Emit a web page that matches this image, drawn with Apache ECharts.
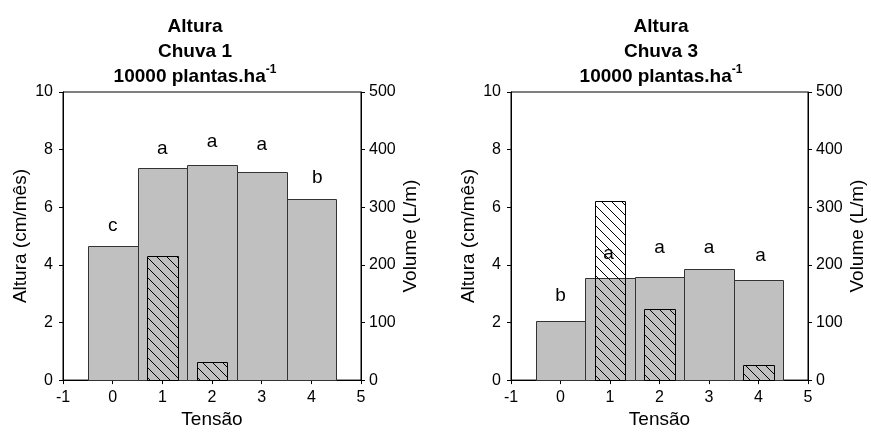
<!DOCTYPE html>
<html>
<head>
<meta charset="UTF-8">
<title>Altura - Chuva 1 / Chuva 3</title>
<script src="https://cdn.jsdelivr.net/npm/echarts/dist/echarts.min.js"></script>
<style>
    html, body { margin: 0; padding: 0; background: #fff; }
    #main { width: 871px; height: 434px; }
</style>
</head>
<body>
<div id="main"></div>
<script type="text/javascript">
    // posicoes das barras (Tensao)
    var tensao = [0, 1, 2, 3, 4];

    // Chuva 1
    var altura1 = [4.66, 7.36, 7.47, 7.22, 6.28];
    var volumeX1 = [1, 2];
    var volume1 = [216, 31];
    var letras1 = ['c', 'a', 'a', 'a', 'b'];
    var letrasX1 = [0, 1, 2, 3, 4.12];
    var letrasY1 = [5.35, 8.03, 8.26, 8.18, 7.04];

    // Chuva 3
    var altura3 = [2.04, 3.53, 3.59, 3.85, 3.47];
    var volumeX3 = [1, 2, 4];
    var volume3 = [310, 124, 26];
    var letras3 = ['b', 'a', 'a', 'a', 'a'];
    var letrasX3 = [0, 0.97, 2, 3, 4.04];
    var letrasY3 = [2.94, 4.38, 4.59, 4.61, 4.30];

    var xTicks = { min: -1, max: 5, interval: 1 };
    var yLeft = { min: 0, max: 10, interval: 2 };
    var yRight = { min: 0, max: 500, interval: 100 };

    var FONT = 'Liberation Sans, Arial, Helvetica, sans-serif';

    // padrao de hachura "\\\"
    var hatch = document.createElement('canvas');
    hatch.width = 10;
    hatch.height = 10;
    var g = hatch.getContext('2d');
    g.strokeStyle = '#000';
    g.lineWidth = 1;
    g.beginPath();
    g.moveTo(-1, -1); g.lineTo(11, 11);
    g.moveTo(-1, 9); g.lineTo(1, 11);
    g.moveTo(9, -1); g.lineTo(11, 1);
    g.stroke();

    function barRenderer(half, style) {
        return function (params, api) {
            var x = api.value(0), v = api.value(1);
            var tl = api.coord([x - half, v]);
            var br = api.coord([x + half, 0]);
            var x0 = Math.round(tl[0]) + 0.5, x1 = Math.round(br[0]) + 0.5;
            var y0 = Math.round(tl[1]) + 0.5, y1 = Math.round(br[1]) + 0.5;
            return {
                type: 'rect',
                shape: { x: x0, y: y0, width: x1 - x0, height: y1 - y0 },
                style: style
            };
        };
    }

    function letterRenderer(params, api) {
        var p = api.coord([api.value(0), api.value(1)]);
        return {
            type: 'text',
            x: p[0], y: p[1],
            style: {
                text: api.value(2),
                font: '19px ' + FONT,
                fill: '#000',
                align: 'center',
                verticalAlign: 'middle'
            }
        };
    }

    function zip(xs, ys, extra) {
        return xs.map(function (x, i) {
            return extra ? [x, ys[i], extra[i]] : [x, ys[i]];
        });
    }

    function xAxisOf(grid) {
        return {
            gridIndex: grid, type: 'value',
            min: xTicks.min, max: xTicks.max, interval: xTicks.interval,
            name: 'Tensão', nameLocation: 'middle', nameGap: 28,
            nameTextStyle: { fontSize: 19, color: '#000', fontFamily: FONT },
            axisLine: { onZero: false, lineStyle: { color: '#000', width: 1 } },
            axisTick: { length: 4, lineStyle: { color: '#000' } },
            axisLabel: { fontSize: 16, color: '#000', margin: 9, fontFamily: FONT },
            splitLine: { show: false }
        };
    }

    function yAxesOf(grid) {
        return [{
            gridIndex: grid, type: 'value', position: 'left',
            min: yLeft.min, max: yLeft.max, interval: yLeft.interval,
            name: 'Altura (cm/mês)', nameLocation: 'middle', nameGap: 33, nameRotate: 90,
            nameTextStyle: { fontSize: 19, color: '#000', fontFamily: FONT },
            axisLine: { show: true, onZero: false, lineStyle: { color: '#000' } },
            axisTick: { show: true, length: 4, lineStyle: { color: '#000' } },
            axisLabel: { fontSize: 16, color: '#000', margin: 10, fontFamily: FONT },
            splitLine: { show: false }
        }, {
            gridIndex: grid, type: 'value', position: 'right',
            min: yRight.min, max: yRight.max, interval: yRight.interval,
            name: 'Volume (L/m)', nameLocation: 'middle', nameGap: 40, nameRotate: 90,
            nameTextStyle: { fontSize: 19, color: '#000', fontFamily: FONT },
            axisLine: { show: true, onZero: false, lineStyle: { color: '#000' } },
            axisTick: { show: true, length: 4, lineStyle: { color: '#000' } },
            axisLabel: { fontSize: 16, color: '#000', margin: 8, fontFamily: FONT },
            splitLine: { show: false }
        }];
    }

    function seriesOf(grid, altura, volX, vol, lx, ly, lt) {
        return [{
            type: 'custom', xAxisIndex: grid, yAxisIndex: grid * 2,
            renderItem: barRenderer(0.5, { fill: '#c0c0c0', stroke: '#333', lineWidth: 1 }),
            data: zip(tensao, altura), z: 2
        }, {
            type: 'custom', xAxisIndex: grid, yAxisIndex: grid * 2 + 1,
            renderItem: barRenderer(0.31, { fill: { image: hatch, repeat: 'repeat' }, stroke: '#000', lineWidth: 1 }),
            data: zip(volX, vol), z: 3
        }, {
            type: 'custom', xAxisIndex: grid, yAxisIndex: grid * 2,
            renderItem: letterRenderer,
            data: zip(lx, ly, lt), z: 4
        }];
    }

    function titleText(x, chuva) {
        return {
            type: 'text', x: x, y: 14,
            style: {
                text: 'Altura\nChuva ' + chuva + '\n10000 plantas.ha{s|-1}',
                font: 'bold 19px ' + FONT,
                fill: '#000',
                align: 'center',
                verticalAlign: 'top',
                lineHeight: 25,
                rich: {
                    s: { fontSize: 12, fontWeight: 'bold', fontFamily: FONT, verticalAlign: 'top', lineHeight: 14, fill: '#000' }
                }
            }
        };
    }

    var myChart = echarts.init(document.getElementById('main'), null, { renderer: 'canvas' });

    var option = {
        animation: false,
        backgroundColor: '#fff',
        grid: [
            { left: 63, top: 92, width: 298, height: 293, show: true, borderColor: '#000', borderWidth: 1, backgroundColor: 'transparent' },
            { left: 511, top: 92, width: 297, height: 293, show: true, borderColor: '#000', borderWidth: 1, backgroundColor: 'transparent' }
        ],
        xAxis: [xAxisOf(0), xAxisOf(1)],
        yAxis: yAxesOf(0).concat(yAxesOf(1)),
        series: seriesOf(0, altura1, volumeX1, volume1, letrasX1, letrasY1, letras1)
            .concat(seriesOf(1, altura3, volumeX3, volume3, letrasX3, letrasY3, letras3)),
        graphic: [titleText(195, 1), titleText(661, 3)]
    };
    myChart.setOption(option);
</script>
</body>
</html>
